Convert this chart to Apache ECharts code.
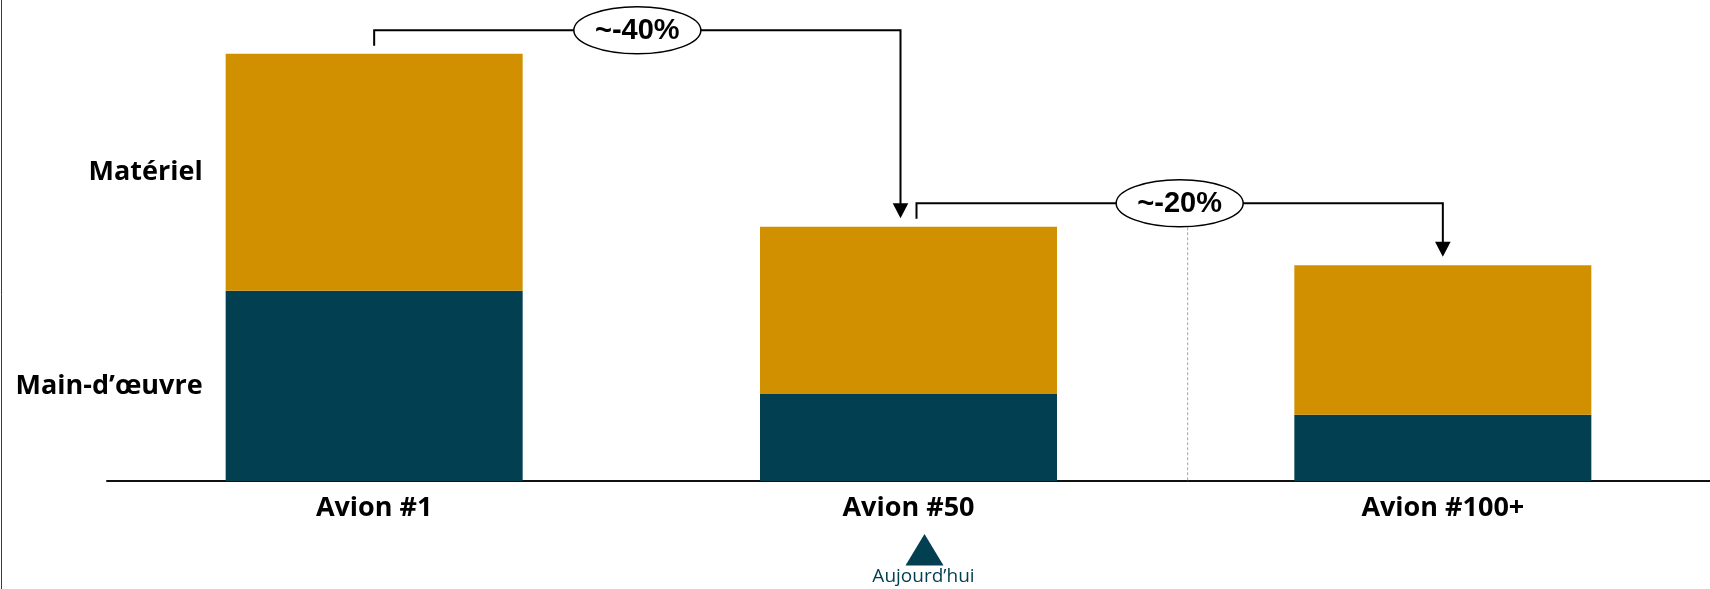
<!DOCTYPE html>
<html lang="fr">
<head>
<meta charset="utf-8">
<title>Coût par avion</title>
<script src="https://cdn.jsdelivr.net/npm/echarts@6/dist/echarts.min.js"></script>
<style>
  html, body { margin: 0; padding: 0; background: #fff; }
  #chart { width: 1710px; height: 589px; }
</style>
</head>
<body>
<div id="chart"></div>
<script>
// Coût unitaire (indice, avion #1 = 100) décomposé en main-d'œuvre et matériel
const categories = ['Avion #1', 'Avion #50', 'Avion #100+'];
const labour = [44.5, 20.5, 15.5];
const material = [55.5, 39, 35];
const seriesNames = ['Main-d’œuvre', 'Matériel'];
// Baisse annoncée d'une étape à la suivante
const stepLabels = ['~-40%', '~-20%'];
// Position actuelle de la production
const todayIndex = 1;
const todayLabel = 'Aujourd’hui';

const NAVY = '#013F51';
const GOLD = '#D09000';
const LABEL_FONT = '"Open Sans", "Noto Sans", sans-serif';

const totals = labour.map((v, i) => v + material[i]);

const chart = echarts.init(document.getElementById('chart'), null, { renderer: 'canvas' });

function firstOnly(arr) {
  return arr.map((v, i) => (i === 0 ? { value: v, label: { show: true } } : v));
}

const barLabel = {
  show: false,
  position: 'left',
  distance: 23,
  formatter: '{a}',
  fontFamily: LABEL_FONT,
  fontWeight: 'bold',
  fontSize: 27,
  color: '#000'
};

// Crochets et flèches reliant le sommet d'une barre à la suivante
function renderStep(params, api) {
  const i = api.value(0);
  const last = categories.length - 1;
  const pFrom = api.coord([i, totals[i]]);
  const pTo = api.coord([i + 1, totals[i + 1]]);
  const base = api.coord([0, 0]);
  const xStart = pFrom[0] + (i > 0 ? 8 : 0);
  const xEnd = pTo[0] - (i + 1 < last ? 8 : 0);
  const yLine = pFrom[1] - 23.5;
  const tipY = pTo[1] - 8.5;
  const head = 15;
  const cx = (xStart + xEnd) / 2;
  const children = [];
  if (i === todayIndex) {
    children.push({
      type: 'line',
      shape: { x1: cx + 8, y1: yLine + 24, x2: cx + 8, y2: base[1] },
      style: { stroke: '#a6a6a6', lineWidth: 1, lineDash: [3, 2] }
    });
  }
  children.push(
    {
      type: 'polyline',
      shape: { points: [[xStart, pFrom[1] - 8], [xStart, yLine], [xEnd, yLine], [xEnd, tipY - head + 1]] },
      style: { stroke: '#000', lineWidth: 2, fill: null }
    },
    {
      type: 'polygon',
      shape: { points: [[xEnd - 7.8, tipY - head], [xEnd + 7.8, tipY - head], [xEnd, tipY]] },
      style: { fill: '#000' }
    },
    {
      type: 'ellipse',
      shape: { cx: cx, cy: yLine, rx: 63.5, ry: 23.5 },
      style: { fill: '#fff', stroke: '#000', lineWidth: 1.5 }
    },
    {
      type: 'text',
      style: {
        text: stepLabels[i],
        x: cx,
        y: yLine + 1,
        align: 'center',
        verticalAlign: 'middle',
        font: 'bold 29px "Liberation Sans", Arial, sans-serif',
        fill: '#000'
      }
    }
  );
  return { type: 'group', children: children };
}

// Repère « Aujourd'hui » sous la catégorie courante
function renderToday(params, api) {
  const p = api.coord([api.value(0), 0]);
  const x = p[0] + 16;
  return {
    type: 'group',
    children: [
      {
        type: 'polygon',
        shape: { points: [[x, p[1] + 53], [x + 19, p[1] + 84.5], [x - 19, p[1] + 84.5]] },
        style: { fill: NAVY }
      },
      {
        type: 'text',
        style: {
          text: todayLabel,
          x: x - 1,
          y: p[1] + 96,
          align: 'center',
          verticalAlign: 'middle',
          font: '19px "Open Sans", "Noto Sans", sans-serif',
          fill: NAVY
        }
      }
    ]
  };
}

chart.setOption({
  animation: false,
  backgroundColor: '#fff',
  grid: { left: 107, top: 11, bottom: 108, width: 1607 },
  xAxis: {
    type: 'category',
    data: categories,
    axisLine: { show: true, lineStyle: { color: '#111', width: 2 } },
    axisTick: { show: false },
    axisLabel: {
      margin: 14,
      fontFamily: LABEL_FONT,
      fontWeight: 'bold',
      fontSize: 27,
      color: '#000'
    },
    splitLine: { show: false }
  },
  yAxis: {
    type: 'value',
    min: 0,
    max: 110,
    show: false,
    splitLine: { show: false }
  },
  graphic: [
    {
      type: 'line',
      shape: { x1: 1.5, y1: 0, x2: 1.5, y2: 589 },
      style: { stroke: '#0d4a5a', lineWidth: 1 },
      silent: true
    }
  ],
  series: [
    {
      name: seriesNames[0],
      type: 'bar',
      stack: 'cost',
      barWidth: 297,
      data: firstOnly(labour),
      itemStyle: { color: NAVY },
      label: barLabel,
      emphasis: { disabled: true }
    },
    {
      name: seriesNames[1],
      type: 'bar',
      stack: 'cost',
      barWidth: 297,
      data: firstOnly(material),
      itemStyle: { color: GOLD },
      label: barLabel,
      emphasis: { disabled: true }
    },
    {
      type: 'custom',
      name: 'steps',
      renderItem: renderStep,
      data: stepLabels.map((_, i) => [i, totals[i]]),
      encode: { x: 0, y: 1 },
      z: 5,
      silent: true
    },
    {
      type: 'custom',
      name: 'today',
      renderItem: renderToday,
      data: [[todayIndex, 0]],
      encode: { x: 0, y: 1 },
      z: 5,
      silent: true
    }
  ]
});
</script>
</body>
</html>
